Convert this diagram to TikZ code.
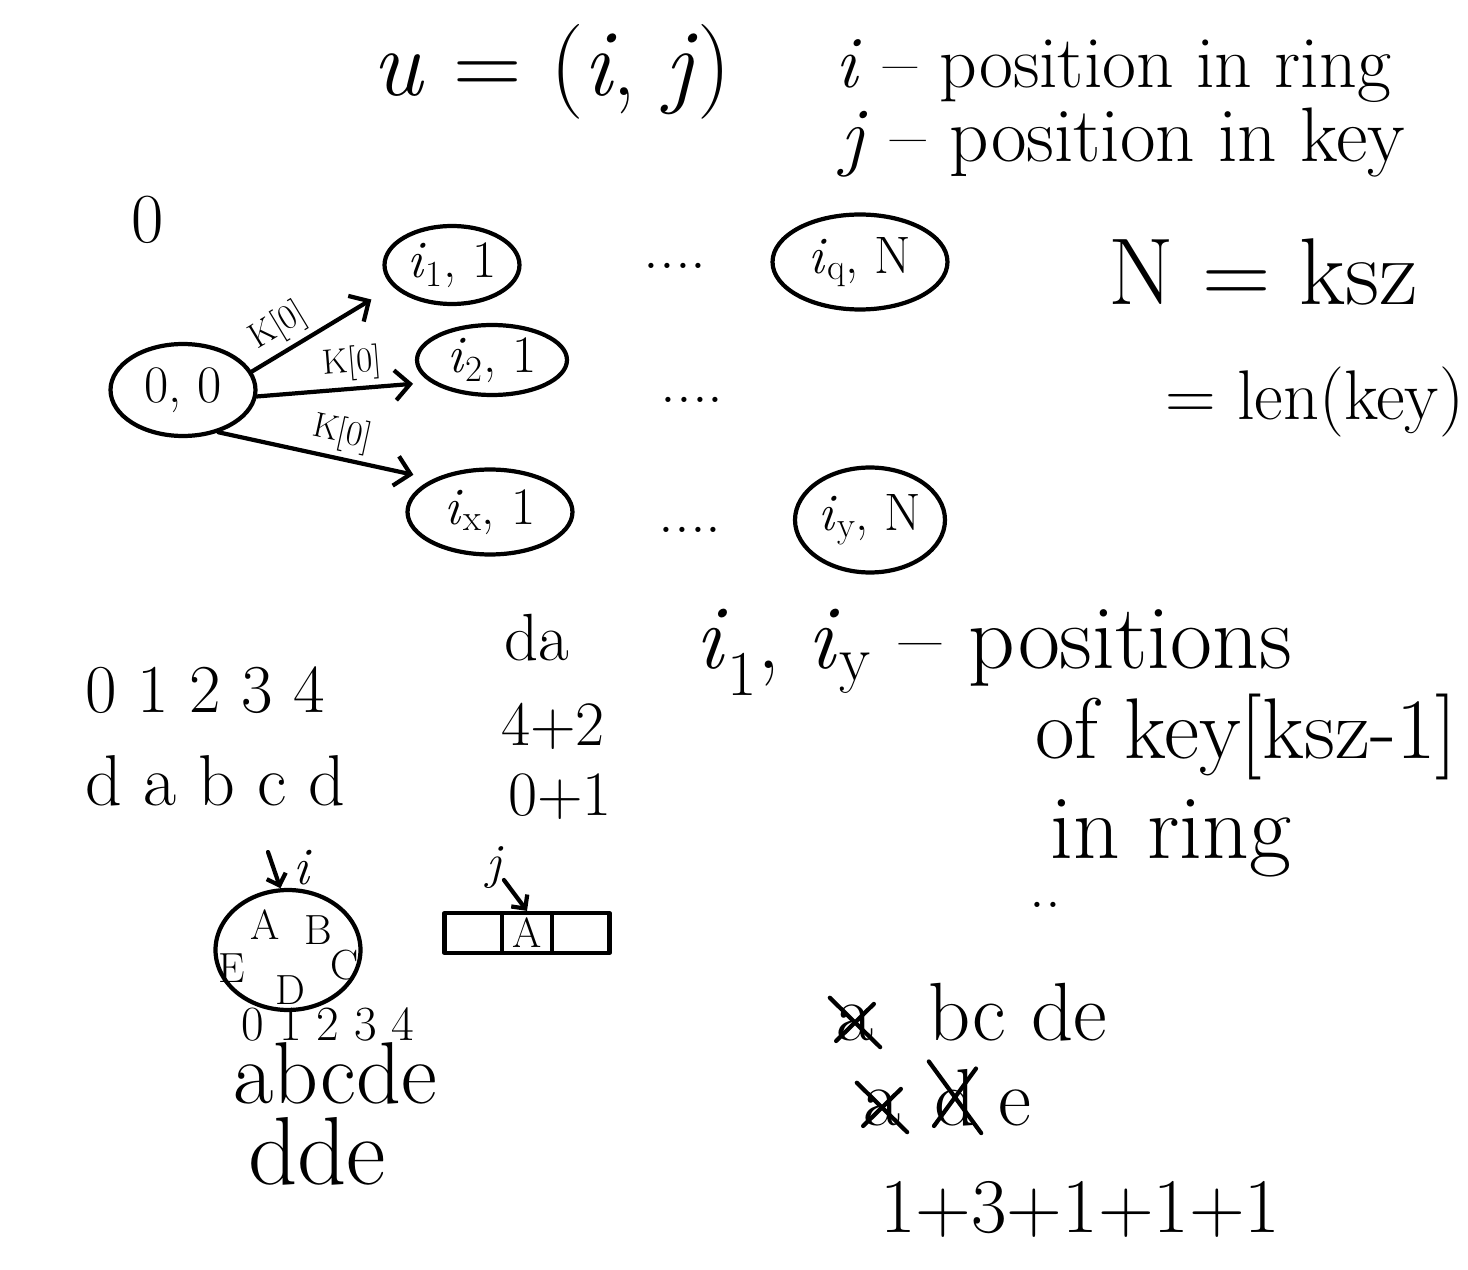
\documentclass[tikz,border=0pt]{standalone}
\usetikzlibrary{positioning}
\usetikzlibrary{arrows.meta}
\usepgflibrary{shapes.geometric}

\newcommand{\isub}[1]{\textit{i}\textsubscript{#1}}

\tikzset{
  pen/.style={line width=2.4pt, line cap=round, line join=round},
  hand/.style={font=\fontsize{#1}{#1}\selectfont, inner sep=0pt},
  state/.style={ellipse, draw, pen, inner sep=0pt, font=\fontsize{30}{36}\selectfont},
  klabel/.style={font=\fontsize{20}{22}\selectfont, sloped, above, inner sep=3pt},
  go/.style={pen, -{Straight Barb[length=3mm, width=6mm]}},
  poke/.style={pen, -{Straight Barb[length=2mm, width=4mm]}},
  strike/.style={pen, shorten <=-5pt, shorten >=-5pt},
}

\begin{document}
\begin{tikzpicture}[x=0.02cm, y=-0.02cm]
        \useasboundingbox (0,0) rectangle (1468,1270);
        % header
        \node [hand=54] (u) at (552,72) {\textit{u} = (\textit{i}, \textit{j})};
        \node [hand=42, anchor=base west] (idef) at (835,88) {\textit{i} -- position in ring};
        \node [hand=44, anchor=base west] (jdef) at (840,162) {\textit{j} -- position in key};
        \node [hand=40] (zero) at (148,220) {0};
        % states
        \node [state, minimum width=2.9cm, minimum height=1.84cm] (o) at (183,390) {0, 0};
        \node [state, minimum width=2.7cm, minimum height=1.56cm] (a) at (452,265) {\isub{1}, 1};
        \node [state, minimum width=3.0cm, minimum height=1.4cm] (b) at (492,360) {\isub{2}, 1};
        \node [state, minimum width=3.3cm, minimum height=1.7cm] (x) at (490,512) {\isub{x}, 1};
        \node [state, minimum width=3.5cm, minimum height=1.9cm] (q) at (860,262) {\isub{q}, N};
        \node [state, minimum width=3.0cm, minimum height=2.1cm] (y) at (870,520) {\isub{y}, N};
        \node [hand=36] (d1) at (675,266) {....};
        \node [hand=36] (d2) at (692,400) {....};
        \node [hand=36] (d3) at (690,530) {....};
        \draw [go, shorten >=0.5cm] (o.15) -- (a.200) node [klabel, pos=0.28] {K[0]};
        \draw [go, shorten >=0.35cm] (o.-5) -- (b.200) node [klabel, pos=0.56] {K[0]};
        \draw [go, shorten >=0.4cm] (o.-50) -- (x.150) node [klabel, pos=0.55] {K[0]};
        % length
        \node [hand=54, anchor=base west] (n) at (1108,305) {N = ksz};
        \node [hand=40, anchor=base west] (len) at (1165,420) {= len(key)};
        % example strings
        \node [hand=39, anchor=base west] (idx) at (85,712) {0 1 2 3 4};
        \node [hand=41, anchor=base west] (word) at (85,805) {d a b c d};
        \node [hand=38, anchor=base] (da) at (537,660) {da};
        \node [hand=36, anchor=base] (s1) at (553,745) {4+2};
        \node [hand=36, anchor=base] (s2) at (560,815) {0+1};
        \node [hand=52, anchor=base west] (pos) at (695,668) {\isub{1}, \isub{y} -- positions};
        \node [hand=49, anchor=base west] (of) at (1035,758) {of key[ksz-1]};
        \node [hand=52, anchor=base west] (inr) at (1050,858) {in ring};
        \node [hand=36] (dd) at (1045,905) {..};
        % ring
        \node [ellipse, draw, pen, minimum width=2.9cm, minimum height=2.4cm] (ring) at (288,950) {};
        \foreach \l/\px/\py in {A/265/925, B/318/930, C/345/965, D/290/990, E/232/968}
          \node [hand=24] (r\l) at (\px,\py) {\l};
        \coordinate (itop) at (268,852);
        \node [hand=30] (ilab) at (303,868) {\textit{i}};
        \draw [poke] (itop) -- (ring.97);
        \node [hand=28, anchor=base] (ridx) at (328,1040) {0 1 2 3 4};
        \node [hand=50, anchor=base] (rword) at (335,1103) {abcde};
        \node [hand=55, anchor=base] (rdde) at (317,1184) {dde};
        % key
        \node [draw, pen, minimum width=3.3cm, minimum height=0.8cm] (key) at (527,933) {};
        \node [draw, pen, hand=24, minimum width=1cm, minimum height=0.8cm] (cell) at (527,933) {A};
        \node [hand=28] (jlab) at (495,868) {\textit{j}};
        \draw [poke] (jlab) -- (cell.north);
        % removals
        \node [hand=46, anchor=base] (xa) at (855,1040) {a};
        \node [hand=47, anchor=base west] (rest) at (928,1040) {bc de};
        \draw [strike] (xa.north east) -- (xa.south west) (xa.north west) -- (xa.south east);
        \node [hand=46, anchor=base] (xb) at (882,1125) {a};
        \node [hand=46, anchor=base] (xd) at (955,1125) {d};
        \node [hand=46, anchor=base west] (e2) at (998,1125) {e};
        \draw [strike] (xb.north east) -- (xb.south west) (xb.north west) -- (xb.south east);
        \draw [strike] (xd.north east) -- (xd.south west) (xd.north west) -- (xd.south east);
        \node [hand=44, anchor=base west] (sum) at (880,1232) {1+3+1+1+1};
      \end{tikzpicture}
\end{document}
